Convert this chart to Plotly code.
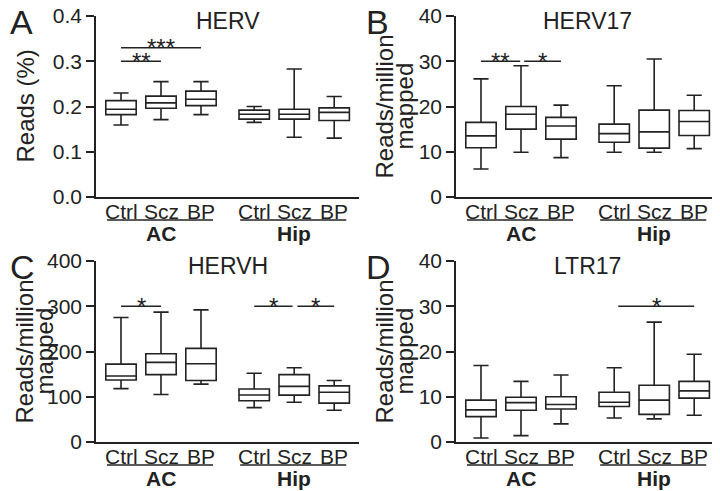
import plotly.graph_objects as go

# ---------------- data ----------------
group_labels = ["Ctrl", "Scz", "BP", "Ctrl", "Scz", "BP"]
regions = ["AC", "Hip"]
x_pos = [0, 1, 2, 3.33, 4.33, 5.33]

panel_titles = ["HERV", "HERV17", "HERVH", "LTR17"]
panel_letters = ["A", "B", "C", "D"]

# HERV (Reads %)
herv_low = [0.159, 0.171, 0.182, 0.165, 0.132, 0.130]
herv_q1 = [0.182, 0.196, 0.202, 0.172, 0.172, 0.169]
herv_med = [0.194, 0.208, 0.216, 0.183, 0.183, 0.187]
herv_q3 = [0.213, 0.223, 0.234, 0.192, 0.194, 0.197]
herv_high = [0.230, 0.255, 0.255, 0.200, 0.283, 0.222]

# HERV17 (Reads/million mapped)
herv17_low = [6.2, 9.9, 8.7, 9.9, 9.9, 10.7]
herv17_q1 = [10.9, 15.0, 12.8, 12.1, 10.8, 13.6]
herv17_med = [13.5, 18.3, 15.7, 14.0, 14.4, 16.7]
herv17_q3 = [16.5, 20.0, 17.6, 16.1, 19.2, 19.1]
herv17_high = [26.1, 29.0, 20.3, 24.6, 30.5, 22.5]

# HERVH
hervh_low = [118, 105, 128, 76, 88, 70]
hervh_q1 = [137, 149, 136, 91, 103.5, 86]
hervh_med = [146, 176, 173, 104, 123, 110]
hervh_q3 = [172, 195, 207, 117, 149, 124]
hervh_high = [275, 287, 292, 152, 164, 136]

# LTR17
ltr17_low = [0.9, 1.4, 4.0, 5.3, 5.1, 5.9]
ltr17_q1 = [5.6, 7.0, 7.3, 7.85, 6.1, 9.7]
ltr17_med = [7.1, 8.7, 8.3, 8.8, 9.25, 11.3]
ltr17_q3 = [9.25, 9.9, 10.0, 11.0, 12.55, 13.4]
ltr17_high = [16.9, 13.4, 14.8, 16.4, 26.5, 19.4]

y_ranges = [[0, 0.4], [0, 40], [0, 400], [0, 40]]
y_ticks = [[0.0, 0.1, 0.2, 0.3, 0.4], [0, 10, 20, 30, 40],
           [0, 100, 200, 300, 400], [0, 10, 20, 30, 40]]
y_ticktext = [["0.0", "0.1", "0.2", "0.3", "0.4"], None, None, None]
y_titles = [["Reads (%)"], ["Reads/million", "mapped"],
            ["Reads/million", "mapped"], ["Reads/million", "mapped"]]

# significance: (x start, x end, y level, label)
sig_A = [(0, 1, 0.30, "**"), (0, 2, 0.33, "***")]
sig_B = [(0, 0.98, 30, "**"), (1.08, 2, 30, "*")]
sig_C = [(0, 1, 300, "*"), (3.33, 4.29, 300, "*"), (4.41, 5.33, 300, "*")]
sig_D = [(3.43, 5.33, 30, "*")]

stats = [
    (herv_low, herv_q1, herv_med, herv_q3, herv_high, sig_A),
    (herv17_low, herv17_q1, herv17_med, herv17_q3, herv17_high, sig_B),
    (hervh_low, hervh_q1, hervh_med, hervh_q3, hervh_high, sig_C),
    (ltr17_low, ltr17_q1, ltr17_med, ltr17_q3, ltr17_high, sig_D),
]

# ---------------- layout geometry ----------------
# the page body has an 8px margin, so the figure is drawn 8px smaller and
# all reference pixel positions are shifted by that offset
OFF = 8
W, H = 720 - OFF, 491 - OFF
FONT = "Liberation Sans, Arial, Helvetica, sans-serif"
INK = "#222222"
# pixel boxes of plot areas in reference pixels: (left, right, top, bottom)
boxes = [(96, 359, 16, 197), (456, 719, 16, 197),
         (96, 359, 261, 442), (456, 719, 261, 442)]
x_range = [-0.625, 5.95]

fig = go.Figure()
layout = dict(width=W, height=H,
              margin=dict(l=0, r=0, t=0, b=0, pad=0, autoexpand=False),
              paper_bgcolor="white", plot_bgcolor="white",
              showlegend=False, font=dict(family=FONT, color=INK))
annotations = []
shapes = []


def px2x(p):
    return (p - OFF) / W


def px2y(p):
    return 1 - (p - OFF) / H


for i, (lo, q1, med, q3, hi, sigs) in enumerate(stats):
    n = "" if i == 0 else str(i + 1)
    xa, ya = "x" + n, "y" + n
    L, R, T, B = boxes[i]
    fig.add_trace(go.Box(
        x=x_pos, q1=q1, median=med, q3=q3, lowerfence=lo, upperfence=hi,
        width=0.76, whiskerwidth=0.5, fillcolor="white",
        line=dict(color=INK, width=1.6), boxpoints=False,
        xaxis=xa, yaxis=ya, hoverinfo="skip"))
    layout["xaxis" + n] = dict(
        domain=[px2x(L), min(1.0, px2x(R))], range=x_range, anchor=ya,
        showline=True, linecolor=INK, linewidth=1.6, ticks="",
        showticklabels=False, showgrid=False, zeroline=False,
        automargin=False, fixedrange=True)
    yax = dict(
        domain=[px2y(B), px2y(T)], range=y_ranges[i], anchor=xa,
        showline=True, linecolor=INK, linewidth=1.6, ticks="outside",
        ticklen=8, tickwidth=1.6, tickcolor=INK, tickvals=y_ticks[i],
        showgrid=False, zeroline=False, automargin=False, fixedrange=True,
        ticklabeloverflow="allow",
        tickfont=dict(size=21, color=INK, family=FONT))
    if y_ticktext[i]:
        yax["ticktext"] = y_ticktext[i]
    layout["yaxis" + n] = yax

    # x category labels
    for xv, lab in zip(x_pos, group_labels):
        annotations.append(dict(text=lab, x=xv, xref=xa, y=px2y(B + 14),
                                yref="paper", showarrow=False,
                                font=dict(size=21, color=INK),
                                xanchor="center", yanchor="middle"))
    # title
    annotations.append(dict(text=panel_titles[i], x=(px2x(L) + px2x(R)) / 2,
                            y=px2y(T + 5), xref="paper", yref="paper",
                            showarrow=False, font=dict(size=23, color=INK),
                            xanchor="center", yanchor="middle"))
    # panel letter
    annotations.append(dict(text=panel_letters[i], x=max(0.0, px2x(L - 96 + 4)),
                            y=px2y(T + 6), xref="paper", yref="paper",
                            showarrow=False, font=dict(size=34, color=INK),
                            xanchor="left", yanchor="middle"))
    # y title
    titles = y_titles[i]
    offsets = [71] if len(titles) == 1 else [72, 52]
    for t_txt, off in zip(titles, offsets):
        annotations.append(dict(text=t_txt, x=px2x(L - off), y=px2y((T + B) / 2),
                                xref="paper", yref="paper", showarrow=False,
                                textangle=-90, font=dict(size=24, color=INK),
                                xanchor="center", yanchor="middle"))
    # region underlines and labels
    for g in range(2):
        a = x_pos[0 if g == 0 else 3]
        b = x_pos[2 if g == 0 else 5]
        shapes.append(dict(type="line", xref=xa, yref="paper",
                           x0=a - 0.35, x1=b + 0.3,
                           y0=px2y(B + 23), y1=px2y(B + 23),
                           line=dict(color=INK, width=1.6)))
        annotations.append(dict(text="<b>%s</b>" % regions[g], x=(a + b) / 2,
                                xref=xa, y=px2y(B + 36), yref="paper",
                                showarrow=False, font=dict(size=21, color=INK),
                                xanchor="center", yanchor="middle"))
    # significance bars
    for (s, e, yv, lab) in sigs:
        shapes.append(dict(type="line", xref=xa, yref=ya, x0=s, x1=e,
                           y0=yv, y1=yv, line=dict(color=INK, width=1.6)))
        annotations.append(dict(text=lab, x=(s + e) / 2, xref=xa, y=yv, yref=ya,
                                showarrow=False, font=dict(size=24, color=INK),
                                xanchor="center", yanchor="middle", yshift=0))

layout["annotations"] = annotations
layout["shapes"] = shapes
fig.update_layout(**layout)
fig.write_html("out.html", config={"displayModeBar": False})
